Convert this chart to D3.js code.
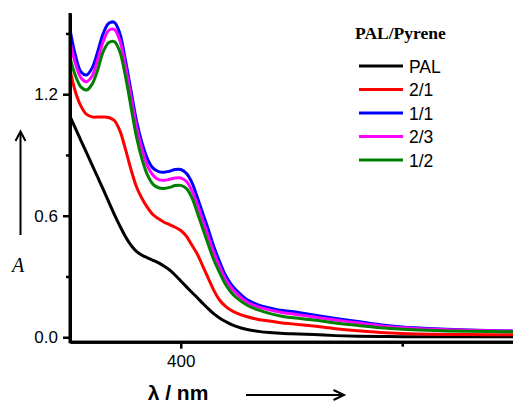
<!DOCTYPE html>
<html><head><meta charset="utf-8">
<script src="https://cdn.jsdelivr.net/npm/d3@7/dist/d3.min.js"></script>
<style>body{margin:0;background:#fff}svg{display:block}</style>
</head><body>
<svg id="c" width="513" height="403"></svg>
<script>
const wavelengths = [300,305,310,315,320,325,330,335,340,345,350,355,360,365,370,375,380,385,390,395,400,405,410,415,420,425,430,435,440,445,450,460,470,480,490,500,520,540,560,580,600,630,660,700];
const seriesNames = ["PAL","2/1","1/1","2/3","1/2"];
const seriesColors = ["#000000","#ff0000","#0000ff","#ff00ff","#008000"];
const palValues = [1.09,1.03,0.97,0.91,0.85,0.79,0.73,0.668,0.607,0.55,0.498,0.455,0.424,0.405,0.392,0.38,0.367,0.351,0.332,0.306,0.278,0.25,0.222,0.195,0.167,0.14,0.115,0.095,0.079,0.065,0.054,0.038,0.029,0.023,0.02,0.017,0.013,0.008,0.005,0.004,0.003,0.003,0.003,0.003];
const r21Values = [1.32,1.21,1.14,1.10,1.088,1.087,1.087,1.085,1.07,1.02,0.93,0.83,0.743,0.685,0.64,0.605,0.585,0.568,0.556,0.543,0.527,0.50,0.455,0.41,0.35,0.29,0.23,0.184,0.155,0.134,0.12,0.101,0.088,0.08,0.072,0.066,0.055,0.042,0.032,0.024,0.019,0.015,0.013,0.012];
const r11Values = [1.52,1.39,1.31,1.295,1.33,1.41,1.50,1.55,1.555,1.50,1.37,1.22,1.07,0.96,0.88,0.835,0.818,0.815,0.82,0.828,0.828,0.81,0.765,0.69,0.61,0.53,0.445,0.375,0.31,0.265,0.233,0.185,0.16,0.145,0.133,0.127,0.11,0.093,0.078,0.062,0.051,0.042,0.036,0.031];
const r23Values = [1.46,1.35,1.28,1.262,1.29,1.37,1.46,1.515,1.52,1.465,1.34,1.19,1.04,0.93,0.845,0.80,0.778,0.775,0.78,0.786,0.786,0.77,0.725,0.655,0.575,0.495,0.415,0.35,0.29,0.248,0.218,0.173,0.15,0.135,0.123,0.116,0.10,0.085,0.07,0.057,0.047,0.039,0.034,0.03];
const r12Values = [1.38,1.29,1.235,1.221,1.25,1.32,1.41,1.455,1.46,1.41,1.29,1.14,0.99,0.88,0.80,0.755,0.738,0.735,0.74,0.749,0.75,0.735,0.69,0.615,0.535,0.455,0.38,0.32,0.265,0.225,0.197,0.158,0.135,0.118,0.105,0.097,0.085,0.07,0.058,0.047,0.04,0.033,0.029,0.027];
const allValues = [palValues,r21Values,r11Values,r23Values,r12Values];
const yMajorTicks = [0.0,0.6,1.2];
const yMinorTicks = [0.3,0.9,1.5];
const xMajorTicks = [400];
const xMinorTicks = [600];

const svg = d3.select("#c");
const x = d3.scaleLinear().domain([300,700]).range([70,513]);
const y = d3.scaleLinear().domain([-0.022,1.6]).range([341.7,13.2]);

svg.append("defs").append("clipPath").attr("id","clip")
  .append("rect").attr("x",70).attr("y",13).attr("width",443).attr("height",329);

const line = d3.line().x(d=>x(d[0])).y(d=>y(d[1])).curve(d3.curveCatmullRom.alpha(0.5));
const g = svg.append("g").attr("clip-path","url(#clip)");
allValues.forEach((vals,i)=>{
  g.append("path").datum(wavelengths.map((w,j)=>[w,vals[j]]))
    .attr("d",line).attr("fill","none").attr("stroke",seriesColors[i])
    .attr("stroke-width",3).attr("stroke-linejoin","round");
});

const font = "'Liberation Sans', Arial, sans-serif";
const yMinor = svg.append("g").attr("transform","translate(70,0)")
  .call(d3.axisLeft(y).tickValues(yMinorTicks).tickSize(4).tickFormat("").tickSizeOuter(0));
const yMajor = svg.append("g").attr("transform","translate(70,0)")
  .call(d3.axisLeft(y).tickValues(yMajorTicks).tickSize(7).tickPadding(5).tickFormat(d3.format(".1f")).tickSizeOuter(0));
const xMinor = svg.append("g").attr("transform","translate(0,341.7)")
  .call(d3.axisBottom(x).tickValues(xMinorTicks).tickSize(5).tickFormat("").tickSizeOuter(0));
const xMajor = svg.append("g").attr("transform","translate(0,341.7)")
  .call(d3.axisBottom(x).tickValues(xMajorTicks).tickSize(7).tickPadding(6).tickFormat(d3.format("d")).tickSizeOuter(0));
[yMinor,yMajor,xMinor,xMajor].forEach(a=>{
  a.select(".domain").attr("stroke","#000").attr("stroke-width",3);
  a.selectAll(".tick line").attr("stroke","#000").attr("stroke-width",2.5);
  a.selectAll(".tick text").attr("fill","#000").style("font-family",font).style("font-size","17px");
});
svg.append("line").attr("x1",70).attr("x2",70).attr("y1",13).attr("y2",343.2).attr("stroke","#000").attr("stroke-width",3);

svg.append("text").attr("x",18).attr("y",272).attr("text-anchor","middle")
  .style("font-family","'Liberation Serif', 'Times New Roman', serif").style("font-style","italic").style("font-size","20px").text("A");
svg.append("line").attr("x1",20.5).attr("x2",20.5).attr("y1",235).attr("y2",132).attr("stroke","#000").attr("stroke-width",2);
svg.append("path").attr("d","M15.5,141 L20.5,131.5 L25.5,141").attr("fill","none").attr("stroke","#000").attr("stroke-width",2);

svg.append("text").attr("x",178).attr("y",400).attr("text-anchor","middle")
  .style("font-family",font).style("font-weight","bold").style("font-size","21px").text("λ / nm");
svg.append("line").attr("x1",246).attr("x2",343).attr("y1",395).attr("y2",395).attr("stroke","#000").attr("stroke-width",2);
svg.append("path").attr("d","M333.5,390 L344,395 L333.5,400").attr("fill","none").attr("stroke","#000").attr("stroke-width",2);

svg.append("text").attr("x",355).attr("y",39).style("font-family","'Liberation Serif', 'Times New Roman', serif")
  .style("font-weight","bold").style("font-size","17.5px").text("PAL/Pyrene");
const legY = [66,89.5,113,136.5,160];
seriesNames.forEach((n,i)=>{
  svg.append("line").attr("x1",359).attr("x2",403).attr("y1",legY[i]).attr("y2",legY[i])
    .attr("stroke",seriesColors[i]).attr("stroke-width",3);
  svg.append("text").attr("x",409).attr("y",legY[i]+6.5).style("font-family",font)
    .style("font-size","17.5px").text(n);
});
</script>
</body></html>
